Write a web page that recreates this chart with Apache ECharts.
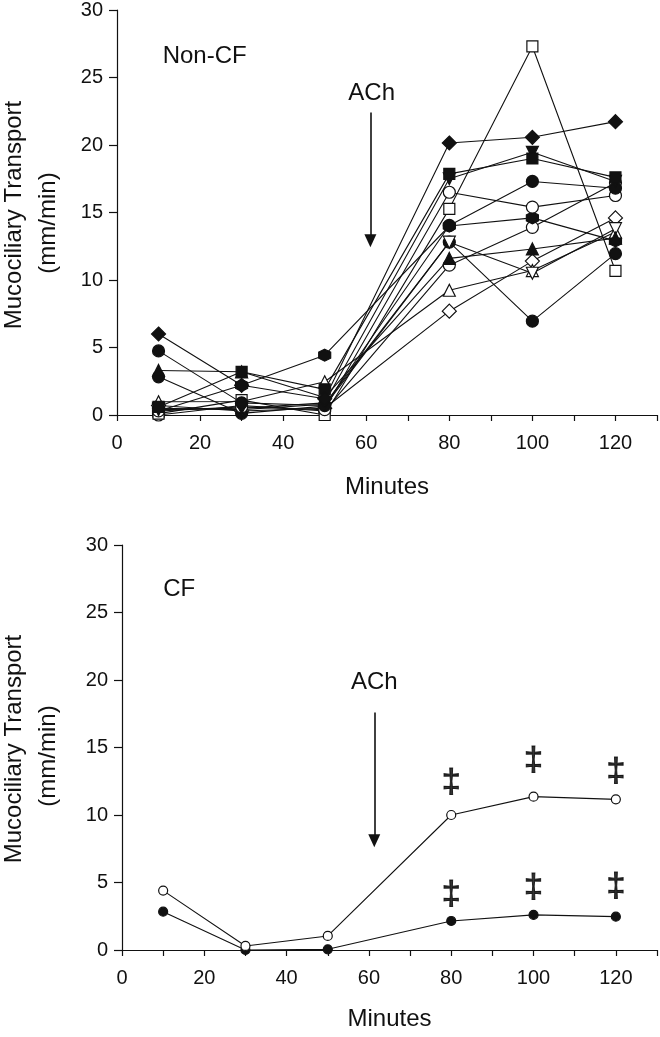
<!DOCTYPE html>
<html>
<head>
<meta charset="utf-8">
<script src="https://cdn.jsdelivr.net/npm/echarts@6/dist/echarts.min.js"></script>
<style>
  html, body { margin: 0; padding: 0; background: #fff; }
  #chart { width: 660px; height: 1037px; }
</style>
</head>
<body>
<div id="chart"></div>
<script>
// ---- Data ----
const minutes = [10, 30, 50, 80, 100, 120];
const xTickLabels = [0, 20, 40, 60, 80, 100, 120];
const yTickLabels = [0, 5, 10, 15, 20, 25, 30];

// Non-CF subjects (mm/min)
const ncFilledDiamond  = [6.0, 2.2, 1.2, 20.15, 20.57, 21.73];
const ncFilledCircleA  = [4.75, 0.9, 0.7, 14.04, 17.3, 16.8];
const ncFilledTriangle = [3.3, 3.2, 1.3, 11.6, 12.3, 13.1];
const ncFilledCircleB  = [2.83, 0.12, 0.66, 12.8, 6.95, 11.95];
const ncFilledSquare   = [0.6, 3.2, 1.9, 17.86, 19.0, 17.6];
const ncFilledDownTri  = [0.4, 0.5, 0.9, 17.5, 19.46, 17.3];
const ncFilledHexagon  = [0.3, 2.2, 4.43, 14.0, 14.6, 12.9];
const ncOpenCircleA    = [0.3, 0.6, 0.4, 16.5, 15.4, 16.26];
const ncOpenSquare     = [0.1, 1.1, 0.0, 15.27, 27.3, 10.67];
const ncOpenDownTri    = [0.5, 0.4, 0.8, 12.8, 10.5, 13.8];
const ncOpenTriangle   = [0.98, 1.0, 2.46, 9.24, 10.7, 13.55];
const ncOpenDiamond    = [0.7, 0.3, 0.5, 7.69, 11.4, 14.6];
const ncOpenCircleB    = [0.0, 0.7, 0.3, 11.1, 13.9, 17.2];

// CF group (mm/min)
const cfOpen   = [4.4, 0.3, 1.04, 10.0, 11.36, 11.16];
const cfFilled = [2.84, 0.0, 0.05, 2.15, 2.6, 2.47];

// significance markers (‡) above CF points
const daggerMinutes = [80, 100, 120];
const daggerOpenY   = [12.4, 14.0, 13.2];
const daggerFilledY = [4.1, 4.6, 4.7];

// ---- Styling ----
const FONT = "'Liberation Sans', Arial, sans-serif";
const INK = '#111';
const TEXT = '#111';
const DOWN_TRI = 'path://M0,0 L10,0 L5,9 Z';
const HEXAGON = 'path://M5,0 L9.33,2.5 L9.33,7.5 L5,10 L0.67,7.5 L0.67,2.5 Z';

function pairs(ys) { return minutes.map((m, i) => [m, ys[i]]); }

function subject(ys, symbol, filled, size, grid) {
  return {
    type: 'line',
    xAxisIndex: grid, yAxisIndex: grid,
    data: pairs(ys),
    symbol: symbol,
    symbolSize: size,
    showAllSymbol: true,
    lineStyle: { color: INK, width: 1.1 },
    itemStyle: { color: filled ? INK : '#fff', borderColor: INK, borderWidth: 1.2 },
    emphasis: { disabled: true },
    z: 3
  };
}

function xAxis(grid, gap) {
  return {
    gridIndex: grid, type: 'value', min: 0, max: 130, interval: 10,
    axisLine: { show: true, lineStyle: { color: INK, width: 1.2 } },
    axisTick: { show: true, length: 6, lineStyle: { color: INK, width: 1.2 } },
    axisLabel: {
      margin: 18, fontSize: 20, color: TEXT, fontFamily: FONT,
      formatter: v => xTickLabels.includes(v) ? String(v) : ''
    },
    splitLine: { show: false },
    name: 'Minutes', nameLocation: 'middle', nameGap: gap,
    nameTextStyle: { fontSize: 24, color: TEXT, fontFamily: FONT }
  };
}

function yAxis(grid) {
  return {
    gridIndex: grid, type: 'value', min: 0, max: 30, interval: 5,
    axisLine: { show: true, onZero: false, lineStyle: { color: INK, width: 1.2 } },
    axisTick: { show: true, length: 8, lineStyle: { color: INK, width: 1.2 } },
    axisLabel: {
      margin: 14, fontSize: 20, color: TEXT, fontFamily: FONT,
      formatter: v => yTickLabels.includes(v) ? String(v) : ''
    },
    splitLine: { show: false }
  };
}

function textLabel(grid, x, y, text, align, size) {
  return {
    type: 'scatter', xAxisIndex: grid, yAxisIndex: grid,
    data: [[x, y]], symbolSize: 1, silent: true,
    itemStyle: { color: 'rgba(0,0,0,0)' },
    label: { show: true, position: 'inside', formatter: text, align: align,
             fontSize: size, color: TEXT, fontFamily: FONT,
             textBorderWidth: 0, opacity: 1 },
    emphasis: { disabled: true },
    z: 5
  };
}

function arrow(grid, x, yTop, yTip) {
  return {
    type: 'scatter', xAxisIndex: grid, yAxisIndex: grid, data: [], silent: true,
    markLine: {
      silent: true, animation: false,
      symbol: ['none', 'triangle'], symbolSize: [12, 13],
      label: { show: false },
      lineStyle: { color: INK, width: 1.6, type: 'solid' },
      data: [[{ coord: [x, yTop] }, { coord: [x, yTip] }]]
    }
  };
}

function daggers(grid, ys) {
  return {
    type: 'scatter', xAxisIndex: grid, yAxisIndex: grid, silent: true,
    data: daggerMinutes.map((m, i) => [m, ys[i]]), symbolSize: 1,
    itemStyle: { color: 'rgba(0,0,0,0)' },
    label: { show: true, position: 'inside', formatter: '\u2021',
             fontSize: 34, color: '#000', fontFamily: FONT,
             textBorderColor: '#000', textBorderWidth: 1 },
    emphasis: { disabled: true },
    z: 5
  };
}

const option = {
  animation: false,
  backgroundColor: '#fff',
  textStyle: { fontFamily: FONT },
  grid: [
    { left: 117, top: 9, width: 541, height: 406 },
    { left: 122, top: 545, width: 536, height: 405 }
  ],
  xAxis: [xAxis(0, 60), xAxis(1, 57)],
  yAxis: [yAxis(0), yAxis(1)],
  graphic: [
    { type: 'text', x: 14, y: 215, rotation: Math.PI / 2,
      style: { text: 'Mucociliary Transport', font: '24px ' + FONT, fill: TEXT, align: 'center', verticalAlign: 'middle' } },
    { type: 'text', x: 48, y: 223, rotation: Math.PI / 2,
      style: { text: '(mm/min)', font: '24px ' + FONT, fill: TEXT, align: 'center', verticalAlign: 'middle' } },
    { type: 'text', x: 14, y: 749, rotation: Math.PI / 2,
      style: { text: 'Mucociliary Transport', font: '24px ' + FONT, fill: TEXT, align: 'center', verticalAlign: 'middle' } },
    { type: 'text', x: 48, y: 756, rotation: Math.PI / 2,
      style: { text: '(mm/min)', font: '24px ' + FONT, fill: TEXT, align: 'center', verticalAlign: 'middle' } }
  ],
  series: [
    subject(ncOpenCircleB, 'circle', false, 12, 0),
    subject(ncFilledHexagon, HEXAGON, true, 12, 0),
    subject(ncOpenDiamond, 'diamond', false, 14, 0),
    subject(ncOpenTriangle, 'triangle', false, 12, 0),
    subject(ncFilledCircleB, 'circle', true, 12, 0),
    subject(ncOpenDownTri, DOWN_TRI, false, 12, 0),
    subject(ncFilledTriangle, 'triangle', true, 12, 0),
    subject(ncOpenSquare, 'rect', false, 11, 0),
    subject(ncOpenCircleA, 'circle', false, 12, 0),
    subject(ncFilledCircleA, 'circle', true, 12, 0),
    subject(ncFilledDownTri, DOWN_TRI, true, 12, 0),
    subject(ncFilledSquare, 'rect', true, 11, 0),
    subject(ncFilledDiamond, 'diamond', true, 14, 0),

    subject(cfFilled, 'circle', true, 9, 1),
    subject(cfOpen, 'circle', false, 9, 1),

    textLabel(0, 11.0, 26.6, 'Non-CF', 'left', 24),
    textLabel(0, 61.3, 23.8, 'ACh', 'center', 24),
    arrow(0, 61.0, 22.4, 12.9),

    textLabel(1, 10.0, 26.7, 'CF', 'left', 24),
    textLabel(1, 61.3, 19.85, 'ACh', 'center', 24),
    arrow(1, 61.3, 17.6, 8.1),
    daggers(1, daggerOpenY),
    daggers(1, daggerFilledY)
  ]
};

const chart = echarts.init(document.getElementById('chart'), null, { renderer: 'canvas' });
chart.setOption(option);
</script>
</body>
</html>
